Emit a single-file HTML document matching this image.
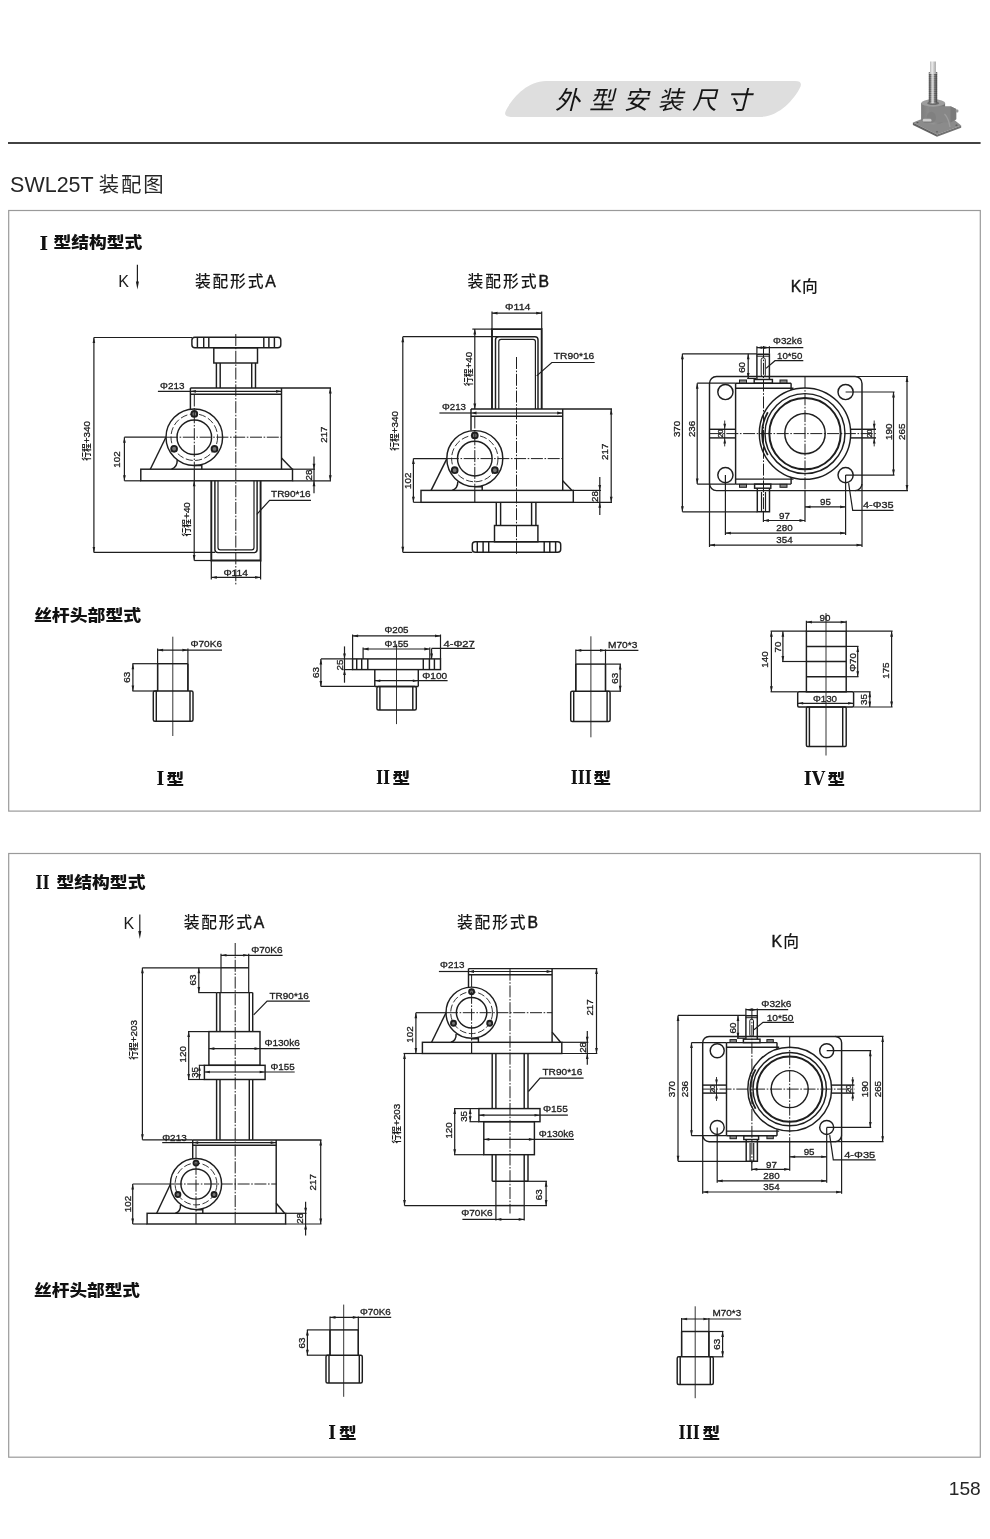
<!DOCTYPE html>
<html lang="zh-CN"><head><meta charset="utf-8"><title>SWL25T装配图 外型安装尺寸</title>
<style>
html,body{margin:0;padding:0;background:#fff}
body{width:990px;height:1539px;overflow:hidden;font-family:"Liberation Sans","Noto Sans CJK SC",sans-serif}
svg{display:block;filter:grayscale(1)}
text{font-family:"Liberation Sans","Noto Sans CJK SC",sans-serif;fill:#1c1c1c;stroke:none}
text.d{stroke:#1c1c1c;stroke-width:.3px}
text.h{font-family:"Noto Sans CJK SC","Liberation Sans",sans-serif;font-weight:900;fill:#111}
text.rn{font-family:"DejaVu Serif","Liberation Serif",serif;font-weight:700;fill:#111}
text.m{font-family:"Liberation Sans","Noto Sans CJK SC",sans-serif;font-weight:500;fill:#161616}
.ah{fill:#1e1e1e;stroke:none}
</style></head><body>
<svg width="990" height="1539" viewBox="0 0 990 1539">
<defs>
<linearGradient id="scr" x1="0" x2="1" y1="0" y2="0"><stop offset="0" stop-color="#5a5a5a"/><stop offset=".45" stop-color="#bdbdbd"/><stop offset="1" stop-color="#4c4c4c"/></linearGradient>
<linearGradient id="bdy" x1="0" x2="1" y1="0" y2="0"><stop offset="0" stop-color="#7d7d7d"/><stop offset=".5" stop-color="#949494"/><stop offset="1" stop-color="#707070"/></linearGradient>
<linearGradient id="scr2" x1="0" x2="1" y1="0" y2="0"><stop offset="0" stop-color="#9a9a9a"/><stop offset=".4" stop-color="#ececec"/><stop offset="1" stop-color="#8c8c8c"/></linearGradient>
<linearGradient id="shf" x1="0" x2="0" y1="0" y2="1"><stop offset="0" stop-color="#8a8a8a"/><stop offset=".4" stop-color="#e2e2e2"/><stop offset="1" stop-color="#6f6f6f"/></linearGradient>
</defs>
<rect width="990" height="1539" fill="#fff"/>
<!-- header -->
<path d="M546 81 H795 Q803.5 81 799.8 88 C794 99.5 779 116.9 760 116.9 H511 Q502.5 116.9 506.2 110 C512 98.5 527 81 546 81 Z" fill="#dedede"/>
<text x="556" y="108.6" font-size="25" letter-spacing="9.3" transform="translate(26 0) skewX(-14)" style="fill:#151515;font-family:'Noto Sans CJK SC','Liberation Sans',sans-serif;font-weight:400">外型安装尺寸</text>
<g id="logo">
<polygon points="912.9,122.6 920.5,119.6 952,118 961.2,125.6 937,134.4" fill="#8b8b8b"/>
<polygon points="912.9,122.6 937,134.4 937,136.8 912.9,124.9" fill="#636363"/>
<polygon points="937,134.4 961.2,125.6 961.2,127.8 937,136.8" fill="#727272"/>
<ellipse cx="917.5" cy="122.6" rx="1.1" ry=".6" fill="#555"/><ellipse cx="937" cy="131.8" rx="1.1" ry=".6" fill="#555"/><ellipse cx="956.5" cy="125.2" rx="1.1" ry=".6" fill="#555"/>
<path d="M921.1 103 V120.5 Q927 124.5 934 124.5 Q941 124.5 945.1 120.5 V103 Z" fill="url(#bdy)"/>
<path d="M928.5 109.5 Q928.5 106.3 932 106.3 H950.5 L956.2 109 V119.3 L950.5 122.6 H932 Q928.5 122.6 928.5 119.5 Z" fill="#878787"/>
<polygon points="950.5,106.3 956.2,109 956.2,119.3 950.5,122.6" fill="#7a7a7a"/>
<path d="M944.5 114 Q948.5 118 950 127" fill="none" stroke="#9d9d9d" stroke-width="1.3"/>
<ellipse cx="933.2" cy="103" rx="12" ry="3.7" fill="#9e9e9e"/>
<ellipse cx="933.2" cy="103.3" rx="6" ry="1.8" fill="#6d6d6d"/>
<rect x="928.8" y="72" width="8.4" height="31.6" fill="url(#scr)"/>
<g stroke="#3c3c3c" stroke-width=".75" opacity=".6"><path d="M928.8 74.5h8.4M928.8 76.4h8.4M928.8 78.3h8.4M928.8 80.2h8.4M928.8 82.1h8.4M928.8 84h8.4M928.8 85.9h8.4M928.8 87.8h8.4M928.8 89.7h8.4M928.8 91.6h8.4M928.8 93.5h8.4M928.8 95.4h8.4M928.8 97.3h8.4M928.8 99.2h8.4M928.8 101.1h8.4"/></g>
<rect x="931.4" y="72" width="2.4" height="31" fill="#e6e6e6" opacity=".75"/>
<path d="M930 61.5 H935.9 V72 L937.2 74 H928.8 L930 72 Z" fill="url(#scr2)"/>
<ellipse cx="931.3" cy="117.4" rx="4.6" ry="5.6" fill="#808080"/>
<rect x="922.7" y="118.2" width="8.8" height="4.6" rx="2" fill="url(#shf)"/>
<rect x="955.8" y="109.4" width="2.6" height="3" rx="1" fill="#9a9a9a"/>
</g>
<rect x="8" y="142.1" width="972.6" height="1.8" fill="#2e2e2e"/>
<text x="10.1" y="192.3" font-size="21.6" textLength="83.6" lengthAdjust="spacingAndGlyphs" style="fill:#262626">SWL25T</text>
<text x="98.8" y="191.8" font-size="20.4" textLength="64.8" lengthAdjust="spacing" style="fill:#262626;font-weight:400">装配图</text>
<rect x="8.7" y="210.5" width="971.6" height="600.6" fill="none" stroke="#9a9a9a" stroke-width="1.2"/>
<rect x="8.7" y="853.5" width="971.6" height="603.7" fill="none" stroke="#9a9a9a" stroke-width="1.2"/>
<text x="948.8" y="1495.3" font-size="18.6" textLength="32" lengthAdjust="spacingAndGlyphs" style="fill:#262626">158</text>

<!-- section headings -->
<text class="rn" x="39.6" y="249.6" font-size="18" textLength="8.6" lengthAdjust="spacingAndGlyphs">I</text>
<text class="h" x="53.5" y="248.3" font-size="15.6" textLength="88.9" lengthAdjust="spacingAndGlyphs">型结构型式</text>
<text class="h" x="33.9" y="621" font-size="15.6" textLength="107.3" lengthAdjust="spacingAndGlyphs">丝杆头部型式</text>
<text class="rn" x="35.4" y="888.6" font-size="18" textLength="14.2" lengthAdjust="spacingAndGlyphs">II</text>
<text class="h" x="56.4" y="887.9" font-size="15.6" textLength="89.1" lengthAdjust="spacingAndGlyphs">型结构型式</text>
<text class="h" x="34.1" y="1296.4" font-size="15.6" textLength="105.9" lengthAdjust="spacingAndGlyphs">丝杆头部型式</text>

<text x="118.2" y="286.9" font-size="16" style="fill:#1c1c1c">K</text>
<text class="m" x="194.9" y="287" font-size="15.8" textLength="80.9" lengthAdjust="spacing">装配形式<tspan font-weight="400" stroke="#161616" stroke-width=".4">A</tspan></text>
<text class="m" x="467.5" y="287" font-size="15.8" textLength="81.6" lengthAdjust="spacing">装配形式<tspan font-weight="400" stroke="#161616" stroke-width=".4">B</tspan></text>
<text class="m" x="790.7" y="291.5" font-size="15.8" textLength="27.1" lengthAdjust="spacing"><tspan font-weight="400" stroke="#161616" stroke-width=".4">K</tspan>向</text>
<text x="123.6" y="928.7" font-size="16" style="fill:#1c1c1c">K</text>
<text class="m" x="183.7" y="927.8" font-size="15.8" textLength="80.7" lengthAdjust="spacing">装配形式<tspan font-weight="400" stroke="#161616" stroke-width=".4">A</tspan></text>
<text class="m" x="457" y="927.8" font-size="15.8" textLength="81" lengthAdjust="spacing">装配形式<tspan font-weight="400" stroke="#161616" stroke-width=".4">B</tspan></text>
<text class="m" x="771.5" y="946.5" font-size="15.8" textLength="27.5" lengthAdjust="spacing"><tspan font-weight="400" stroke="#161616" stroke-width=".4">K</tspan>向</text>
<g stroke="#1e1e1e" stroke-width="1.2" fill="#1e1e1e">
<line x1="137.4" y1="264.7" x2="137.4" y2="284"/><polygon points="137.4,289.5 135.9,281.5 138.9,281.5" stroke="none"/>
<line x1="139.8" y1="914.5" x2="139.8" y2="933"/><polygon points="139.8,939 138.3,931 141.3,931" stroke="none"/>
</g>
<!-- head labels -->
<text class="rn" x="156.4" y="784.6" font-size="18" textLength="7.8" lengthAdjust="spacingAndGlyphs">I</text><text class="h" x="166.5" y="784.6" font-size="15.6" textLength="17.6" lengthAdjust="spacingAndGlyphs">型</text>
<text class="rn" x="375.9" y="784.2" font-size="18" textLength="14.2" lengthAdjust="spacingAndGlyphs">II</text><text class="h" x="392.6" y="783.8" font-size="15.6" textLength="17.6" lengthAdjust="spacingAndGlyphs">型</text>
<text class="rn" x="570.7" y="784.2" font-size="18" textLength="21.2" lengthAdjust="spacingAndGlyphs">III</text><text class="h" x="593.5" y="783.8" font-size="15.6" textLength="17.6" lengthAdjust="spacingAndGlyphs">型</text>
<text class="rn" x="803.7" y="785.2" font-size="18" textLength="21.3" lengthAdjust="spacingAndGlyphs">IV</text><text class="h" x="827.6" y="784.8" font-size="15.6" textLength="17.6" lengthAdjust="spacingAndGlyphs">型</text>
<text class="rn" x="328.2" y="1438.6" font-size="18" textLength="7.8" lengthAdjust="spacingAndGlyphs">I</text><text class="h" x="338.9" y="1438.6" font-size="15.6" textLength="17.6" lengthAdjust="spacingAndGlyphs">型</text>
<text class="rn" x="678.6" y="1438.6" font-size="18" textLength="21.2" lengthAdjust="spacingAndGlyphs">III</text><text class="h" x="702.4" y="1438.6" font-size="15.6" textLength="17.6" lengthAdjust="spacingAndGlyphs">型</text>
<g fill="none" stroke="#1e1e1e" stroke-linecap="butt" stroke-linejoin="miter">
<rect x="191.9" y="337.3" width="88.9" height="10.5" rx="3" stroke-width="1.45" />
<line x1="197.4" y1="337.3" x2="197.4" y2="347.8" stroke-width="1.45" />
<line x1="203.7" y1="337.3" x2="203.7" y2="347.8" stroke-width="1.45" />
<line x1="208.8" y1="337.3" x2="208.8" y2="347.8" stroke-width="1.45" />
<line x1="263.8" y1="337.3" x2="263.8" y2="347.8" stroke-width="1.45" />
<line x1="268.9" y1="337.3" x2="268.9" y2="347.8" stroke-width="1.45" />
<line x1="274.4" y1="337.3" x2="274.4" y2="347.8" stroke-width="1.45" />
<rect x="213.8" y="347.8" width="43.7" height="15.2" rx="0" stroke-width="1.45" />
<line x1="216.4" y1="363.0" x2="216.4" y2="388.0" stroke-width="1.45" />
<line x1="220.2" y1="363.0" x2="220.2" y2="388.0" stroke-width="1.45" />
<line x1="251.7" y1="363.0" x2="251.7" y2="388.0" stroke-width="1.45" />
<line x1="255.5" y1="363.0" x2="255.5" y2="388.0" stroke-width="1.45" />
<line x1="190.4" y1="388.0" x2="331.0" y2="388.0" stroke-width="1.45" />
<line x1="190.4" y1="394.2" x2="281.5" y2="394.2" stroke-width="1.45" />
<line x1="281.5" y1="388.0" x2="281.5" y2="469.2" stroke-width="1.45" />
<line x1="190.4" y1="388.0" x2="190.4" y2="409.2" stroke-width="1.45" />
<circle cx="194.3" cy="437.2" r="28.3" stroke-width="1.45" />
<circle cx="194.3" cy="437.2" r="17.3" stroke-width="1.45" />
<circle cx="194.3" cy="437.2" r="23.3" stroke-width="0.9" stroke-dasharray="7 2.5"/>
<circle cx="194.3" cy="413.9" r="2.9" stroke-width="1.9" fill="#777"/>
<circle cx="174.1" cy="448.8" r="2.9" stroke-width="1.9" fill="#777"/>
<circle cx="214.5" cy="448.9" r="2.9" stroke-width="1.9" fill="#777"/>
<line x1="194.3" y1="394.5" x2="194.3" y2="469.2" stroke-width="1.0" stroke-dasharray="12 1.6 1.6 1.6"/>
<line x1="194.3" y1="469.2" x2="194.3" y2="480.8" stroke-width="1.2" />
<line x1="124.4" y1="437.2" x2="166.0" y2="437.2" stroke-width="1.2" />
<line x1="166.0" y1="437.2" x2="281.5" y2="437.2" stroke-width="1.0" stroke-dasharray="12 1.6 1.6 1.6"/>
<line x1="165.9" y1="437.2" x2="150.3" y2="469.2" stroke-width="1.45" />
<path d="M177.2 460 Q177.5 467 171.5 469.2" stroke-width="1.45"/>
<polyline points="194.3,465.5 201.8,465.5 201.8,469.2" stroke-width="1.45" />
<rect x="140.8" y="469.2" width="151.7" height="11.6" rx="0" stroke-width="1.45" />
<line x1="281.5" y1="457.9" x2="292.3" y2="469.2" stroke-width="1.45" />
<line x1="235.8" y1="334.0" x2="235.8" y2="585.0" stroke-width="1.0" stroke-dasharray="12 1.6 1.6 1.6"/>
<polyline points="211.3,480.8 211.3,560.5 260.6,560.5 260.6,480.8" stroke-width="1.9" />
<path d="M214.9 480.8 V549.5 Q214.9 552.6 218 552.6 H254 Q257.1 552.6 257.1 549.5 V480.8" stroke-width="1.45"/>
<path d="M218 480.8 V547.5 Q218 549.8 220.3 549.8 H251.7 Q254 549.8 254 547.5 V480.8" stroke-width="1.2"/>
<line x1="190.4" y1="391.3" x2="281.5" y2="391.3" stroke-width="1.2" />
<polygon class="ah" points="190.4,391.3 195.9,389.9 195.9,392.7"/>
<polygon class="ah" points="281.5,391.3 276.0,392.7 276.0,389.9"/>
<line x1="157.9" y1="391.3" x2="190.4" y2="391.3" stroke-width="1.2" />
<text class="d" x="160.0" y="388.8" font-size="9.8" text-anchor="start" textLength="24.4" lengthAdjust="spacingAndGlyphs" >Φ213</text>
<line x1="93.9" y1="337.5" x2="93.9" y2="552.4" stroke-width="1.2" />
<polygon class="ah" points="93.9,337.5 95.2,343.0 92.6,343.0"/>
<polygon class="ah" points="93.9,552.4 92.6,546.9 95.2,546.9"/>
<line x1="93.9" y1="337.5" x2="192.0" y2="337.5" stroke-width="1.2" />
<line x1="93.9" y1="552.4" x2="215.0" y2="552.4" stroke-width="1.2" />
<text class="d" x="90.0" y="441.0" font-size="9.8" text-anchor="middle" transform="rotate(-90 90.0 441.0)"><tspan font-size="8.8" font-weight="700" stroke="none">行程</tspan>+340</text>
<line x1="124.4" y1="437.2" x2="124.4" y2="480.8" stroke-width="1.2" />
<polygon class="ah" points="124.4,437.2 125.8,442.7 123.1,442.7"/>
<polygon class="ah" points="124.4,480.8 123.1,475.3 125.8,475.3"/>
<line x1="124.4" y1="480.8" x2="140.8" y2="480.8" stroke-width="1.2" />
<text class="d" x="119.9" y="459.5" font-size="9.8" text-anchor="middle" transform="rotate(-90 119.9 459.5)">102</text>
<line x1="194.2" y1="480.8" x2="194.2" y2="560.5" stroke-width="1.2" />
<polygon class="ah" points="194.2,480.8 195.5,486.3 192.8,486.3"/>
<polygon class="ah" points="194.2,560.5 192.8,555.0 195.5,555.0"/>
<line x1="194.2" y1="560.5" x2="211.3" y2="560.5" stroke-width="1.2" />
<text class="d" x="190.3" y="519.3" font-size="9.8" text-anchor="middle" transform="rotate(-90 190.3 519.3)"><tspan font-size="8.8" font-weight="700" stroke="none">行程</tspan>+40</text>
<line x1="211.3" y1="577.4" x2="260.6" y2="577.4" stroke-width="1.2" />
<polygon class="ah" points="211.3,577.4 216.8,576.0 216.8,578.8"/>
<polygon class="ah" points="260.6,577.4 255.1,578.8 255.1,576.0"/>
<line x1="211.3" y1="560.5" x2="211.3" y2="579.5" stroke-width="1.2" />
<line x1="260.6" y1="560.5" x2="260.6" y2="579.5" stroke-width="1.2" />
<text class="d" x="223.4" y="575.8" font-size="9.8" text-anchor="start" textLength="24.6" lengthAdjust="spacingAndGlyphs" >Φ114</text>
<text class="d" x="271.0" y="496.9" font-size="9.8" text-anchor="start" textLength="39.6" lengthAdjust="spacingAndGlyphs" >TR90*16</text>
<polyline points="311.0,500.4 269.6,500.4 256.8,514.3" stroke-width="1.2" />
<line x1="330.3" y1="388.0" x2="330.3" y2="480.8" stroke-width="1.2" />
<polygon class="ah" points="330.3,388.0 331.7,393.5 328.9,393.5"/>
<polygon class="ah" points="330.3,480.8 328.9,475.3 331.7,475.3"/>
<line x1="292.5" y1="480.8" x2="331.0" y2="480.8" stroke-width="1.2" />
<text class="d" x="326.7" y="434.6" font-size="9.8" text-anchor="middle" transform="rotate(-90 326.7 434.6)">217</text>
<line x1="314.0" y1="456.4" x2="314.0" y2="493.2" stroke-width="1.2" />
<polygon class="ah" points="314.0,469.2 312.6,463.7 315.4,463.7"/>
<polygon class="ah" points="314.0,480.8 315.4,486.3 312.6,486.3"/>
<line x1="292.5" y1="469.2" x2="315.0" y2="469.2" stroke-width="1.2" />
<text class="d" x="311.5" y="475.0" font-size="9.8" text-anchor="middle" transform="rotate(-90 311.5 475.0)">28</text>
<polyline points="492.0,409.0 492.0,329.1 541.7,329.1 541.7,409.0" stroke-width="1.9" />
<path d="M495.5 409 V339.8 Q495.5 336.7 498.6 336.7 H534.9 Q538 336.7 538 339.8 V409" stroke-width="1.45"/>
<path d="M498.8 409 V341.6 Q498.8 339.3 501.1 339.3 H533.1 Q535.4 339.3 535.4 341.6 V409" stroke-width="1.2"/>
<line x1="471.0" y1="409.0" x2="612.0" y2="409.0" stroke-width="1.45" />
<line x1="471.0" y1="416.3" x2="562.7" y2="416.3" stroke-width="1.45" />
<line x1="562.7" y1="409.0" x2="562.7" y2="490.4" stroke-width="1.45" />
<line x1="471.0" y1="409.0" x2="471.0" y2="430.6" stroke-width="1.45" />
<circle cx="474.8" cy="458.6" r="28.0" stroke-width="1.45" />
<circle cx="474.8" cy="458.6" r="17.3" stroke-width="1.45" />
<circle cx="474.8" cy="458.6" r="23.2" stroke-width="0.9" stroke-dasharray="7 2.5"/>
<circle cx="474.8" cy="435.4" r="2.9" stroke-width="1.9" fill="#777"/>
<circle cx="454.7" cy="470.2" r="2.9" stroke-width="1.9" fill="#777"/>
<circle cx="494.9" cy="470.2" r="2.9" stroke-width="1.9" fill="#777"/>
<line x1="474.8" y1="416.5" x2="474.8" y2="490.4" stroke-width="1.0" stroke-dasharray="12 1.6 1.6 1.6"/>
<line x1="474.8" y1="490.4" x2="474.8" y2="502.3" stroke-width="1.2" />
<line x1="413.4" y1="458.6" x2="446.9" y2="458.6" stroke-width="1.2" />
<line x1="446.9" y1="458.6" x2="562.7" y2="458.6" stroke-width="1.0" stroke-dasharray="12 1.6 1.6 1.6"/>
<line x1="446.9" y1="458.6" x2="431.1" y2="490.4" stroke-width="1.45" />
<path d="M457.8 481.5 Q458 488.2 452.2 490.4" stroke-width="1.45"/>
<polyline points="474.8,486.7 482.2,486.7 482.2,490.4" stroke-width="1.45" />
<rect x="421.0" y="490.4" width="152.3" height="11.9" rx="0" stroke-width="1.45" />
<line x1="562.7" y1="480.8" x2="572.0" y2="490.4" stroke-width="1.45" />
<line x1="496.3" y1="502.3" x2="496.3" y2="525.5" stroke-width="1.45" />
<line x1="500.6" y1="502.3" x2="500.6" y2="525.5" stroke-width="1.45" />
<line x1="531.6" y1="502.3" x2="531.6" y2="525.5" stroke-width="1.45" />
<line x1="535.9" y1="502.3" x2="535.9" y2="525.5" stroke-width="1.45" />
<rect x="494.5" y="525.5" width="43.4" height="16.3" rx="0" stroke-width="1.45" />
<rect x="472.3" y="541.8" width="88.4" height="10.5" rx="3" stroke-width="1.45" />
<line x1="477.3" y1="541.8" x2="477.3" y2="552.3" stroke-width="1.45" />
<line x1="483.1" y1="541.8" x2="483.1" y2="552.3" stroke-width="1.45" />
<line x1="488.7" y1="541.8" x2="488.7" y2="552.3" stroke-width="1.45" />
<line x1="544.2" y1="541.8" x2="544.2" y2="552.3" stroke-width="1.45" />
<line x1="549.8" y1="541.8" x2="549.8" y2="552.3" stroke-width="1.45" />
<line x1="555.6" y1="541.8" x2="555.6" y2="552.3" stroke-width="1.45" />
<line x1="516.5" y1="357.0" x2="516.5" y2="554.0" stroke-width="1.0" stroke-dasharray="12 1.6 1.6 1.6"/>
<line x1="492.0" y1="313.2" x2="541.7" y2="313.2" stroke-width="1.2" />
<polygon class="ah" points="492.0,313.2 497.5,311.8 497.5,314.6"/>
<polygon class="ah" points="541.7,313.2 536.2,314.6 536.2,311.8"/>
<line x1="492.0" y1="311.5" x2="492.0" y2="329.0" stroke-width="1.2" />
<line x1="541.7" y1="311.5" x2="541.7" y2="329.0" stroke-width="1.2" />
<text class="d" x="505.1" y="310.3" font-size="9.8" text-anchor="start" textLength="25.3" lengthAdjust="spacingAndGlyphs" >Φ114</text>
<line x1="474.8" y1="329.1" x2="474.8" y2="409.0" stroke-width="1.2" />
<polygon class="ah" points="474.8,329.1 476.2,334.6 473.4,334.6"/>
<polygon class="ah" points="474.8,409.0 473.4,403.5 476.2,403.5"/>
<line x1="472.3" y1="329.1" x2="492.0" y2="329.1" stroke-width="1.2" />
<text class="d" x="472.4" y="369.0" font-size="9.8" text-anchor="middle" transform="rotate(-90 472.4 369.0)"><tspan font-size="8.8" font-weight="700" stroke="none">行程</tspan>+40</text>
<line x1="402.8" y1="336.7" x2="402.8" y2="552.3" stroke-width="1.2" />
<polygon class="ah" points="402.8,336.7 404.2,342.2 401.4,342.2"/>
<polygon class="ah" points="402.8,552.3 401.4,546.8 404.2,546.8"/>
<line x1="402.8" y1="336.7" x2="498.6" y2="336.7" stroke-width="1.2" />
<line x1="402.8" y1="552.3" x2="472.3" y2="552.3" stroke-width="1.2" />
<text class="d" x="397.5" y="431.0" font-size="9.8" text-anchor="middle" transform="rotate(-90 397.5 431.0)"><tspan font-size="8.8" font-weight="700" stroke="none">行程</tspan>+340</text>
<text class="d" x="553.8" y="358.9" font-size="9.8" text-anchor="start" textLength="40.5" lengthAdjust="spacingAndGlyphs" >TR90*16</text>
<polyline points="594.7,362.5 551.8,362.5 536.7,375.9" stroke-width="1.2" />
<line x1="471.0" y1="413.0" x2="562.7" y2="413.0" stroke-width="1.2" />
<polygon class="ah" points="471.0,413.0 476.5,411.6 476.5,414.4"/>
<polygon class="ah" points="562.7,413.0 557.2,414.4 557.2,411.6"/>
<line x1="439.4" y1="413.0" x2="471.0" y2="413.0" stroke-width="1.2" />
<text class="d" x="442.0" y="409.6" font-size="9.8" text-anchor="start" textLength="24.0" lengthAdjust="spacingAndGlyphs" >Φ213</text>
<line x1="413.4" y1="458.6" x2="413.4" y2="502.3" stroke-width="1.2" />
<polygon class="ah" points="413.4,458.6 414.8,464.1 412.0,464.1"/>
<polygon class="ah" points="413.4,502.3 412.0,496.8 414.8,496.8"/>
<line x1="413.4" y1="502.3" x2="421.0" y2="502.3" stroke-width="1.2" />
<text class="d" x="411.1" y="480.8" font-size="9.8" text-anchor="middle" transform="rotate(-90 411.1 480.8)">102</text>
<line x1="611.2" y1="409.0" x2="611.2" y2="502.3" stroke-width="1.2" />
<polygon class="ah" points="611.2,409.0 612.6,414.5 609.9,414.5"/>
<polygon class="ah" points="611.2,502.3 609.9,496.8 612.6,496.8"/>
<line x1="573.3" y1="502.3" x2="612.0" y2="502.3" stroke-width="1.2" />
<text class="d" x="607.8" y="451.8" font-size="9.8" text-anchor="middle" transform="rotate(-90 607.8 451.8)">217</text>
<line x1="599.8" y1="477.0" x2="599.8" y2="514.9" stroke-width="1.2" />
<polygon class="ah" points="599.8,490.4 598.4,484.9 601.1,484.9"/>
<polygon class="ah" points="599.8,502.3 601.1,507.8 598.4,507.8"/>
<line x1="573.3" y1="490.4" x2="601.0" y2="490.4" stroke-width="1.2" />
<text class="d" x="597.7" y="496.5" font-size="9.8" text-anchor="middle" transform="rotate(-90 597.7 496.5)">28</text>
<rect x="709.5" y="376.5" width="152.5" height="114.1" rx="7.0" stroke-width="1.45" />
<circle cx="725.4" cy="392.0" r="7.6" stroke-width="1.45" />
<circle cx="725.4" cy="475.1" r="7.6" stroke-width="1.45" />
<circle cx="845.6" cy="392.0" r="7.6" stroke-width="1.45" />
<circle cx="845.6" cy="475.1" r="7.6" stroke-width="1.45" />
<line x1="735.6" y1="383.2" x2="791.1" y2="383.2" stroke-width="1.45" />
<line x1="735.6" y1="388.2" x2="793.5" y2="388.2" stroke-width="1.45" />
<line x1="735.6" y1="479.1" x2="793.5" y2="479.1" stroke-width="1.45" />
<line x1="735.6" y1="484.1" x2="791.1" y2="484.1" stroke-width="1.45" />
<line x1="735.6" y1="383.2" x2="735.6" y2="484.1" stroke-width="1.45" />
<line x1="791.1" y1="383.2" x2="791.1" y2="390.2" stroke-width="1.45" />
<line x1="791.1" y1="477.0" x2="791.1" y2="484.1" stroke-width="1.45" />
<circle cx="805.0" cy="433.6" r="45.7" stroke-width="1.45" />
<circle cx="805.0" cy="433.6" r="40.0" stroke-width="1.45" />
<circle cx="805.0" cy="433.6" r="35.7" stroke-width="2.0" />
<circle cx="805.0" cy="433.6" r="20.2" stroke-width="1.45" />
<path d="M767.8 412.2 A42.9 42.9 0 0 0 767.8 455.1" stroke-width="1.8"/>
<line x1="763.5" y1="346.0" x2="763.5" y2="514.0" stroke-width="1.0" stroke-dasharray="12 1.6 1.6 1.6"/>
<line x1="709.5" y1="433.6" x2="876.0" y2="433.6" stroke-width="1.0" stroke-dasharray="12 1.6 1.6 1.6"/>
<line x1="805.0" y1="376.5" x2="805.0" y2="491.0" stroke-width="1.0" stroke-dasharray="12 1.6 1.6 1.6"/>
<line x1="805.0" y1="491.0" x2="805.0" y2="522.0" stroke-width="1.2" />
<polyline points="756.9,379.5 756.9,354.2 769.4,354.2 769.4,379.5" stroke-width="1.45" />
<line x1="756.9" y1="356.2" x2="769.4" y2="356.2" stroke-width="1.0" />
<rect x="754.2" y="379.5" width="18.2" height="3.7" rx="0" stroke-width="1.45" />
<rect x="761.2" y="357.8" width="4.1" height="19.0" rx="1.9" stroke-width="1.0" />
<rect x="739.5" y="380.0" width="7.0" height="3.0" rx="0" stroke-width="1.0" fill="#8a8a8a"/>
<rect x="739.5" y="484.3" width="7.0" height="3.0" rx="0" stroke-width="1.0" fill="#8a8a8a"/>
<rect x="780.0" y="380.0" width="7.0" height="3.0" rx="0" stroke-width="1.0" fill="#8a8a8a"/>
<rect x="780.0" y="484.3" width="7.0" height="3.0" rx="0" stroke-width="1.0" fill="#8a8a8a"/>
<rect x="754.6" y="484.1" width="16.2" height="4.1" rx="0" stroke-width="1.45" />
<polyline points="757.3,488.2 757.3,511.8 769.5,511.8 769.5,488.2" stroke-width="1.45" />
<line x1="761.5" y1="492.0" x2="761.5" y2="511.8" stroke-width="1.2" />
<line x1="765.5" y1="492.0" x2="765.5" y2="511.8" stroke-width="1.2" />
<line x1="709.5" y1="429.3" x2="735.6" y2="429.3" stroke-width="1.45" />
<line x1="850.5" y1="429.3" x2="876.0" y2="429.3" stroke-width="1.45" />
<line x1="709.5" y1="437.9" x2="735.6" y2="437.9" stroke-width="1.45" />
<line x1="850.5" y1="437.9" x2="876.0" y2="437.9" stroke-width="1.45" />
<line x1="756.9" y1="346.3" x2="756.9" y2="353.8" stroke-width="1.2" />
<line x1="769.4" y1="346.3" x2="769.4" y2="353.8" stroke-width="1.2" />
<line x1="756.9" y1="347.6" x2="803.3" y2="347.6" stroke-width="1.2" />
<polygon class="ah" points="756.9,347.6 762.4,346.2 762.4,349.0"/>
<polygon class="ah" points="769.4,347.6 763.9,349.0 763.9,346.2"/>
<text class="d" x="773.0" y="343.6" font-size="9.8" text-anchor="start" textLength="29.3" lengthAdjust="spacingAndGlyphs" >Φ32k6</text>
<text class="d" x="777.0" y="358.9" font-size="9.8" text-anchor="start" textLength="25.3" lengthAdjust="spacingAndGlyphs" >10*50</text>
<polyline points="803.3,360.7 775.0,360.7 766.0,368.4" stroke-width="1.2" />
<line x1="748.2" y1="353.8" x2="748.2" y2="378.5" stroke-width="1.2" />
<polygon class="ah" points="748.2,353.8 749.6,359.3 746.9,359.3"/>
<polygon class="ah" points="748.2,378.5 746.9,373.0 749.6,373.0"/>
<line x1="747.2" y1="378.5" x2="756.0" y2="378.5" stroke-width="1.2" />
<text class="d" x="745.3" y="367.4" font-size="9.8" text-anchor="middle" transform="rotate(-90 745.3 367.4)">60</text>
<line x1="682.4" y1="353.8" x2="682.4" y2="511.8" stroke-width="1.2" />
<polygon class="ah" points="682.4,353.8 683.8,359.3 681.0,359.3"/>
<polygon class="ah" points="682.4,511.8 681.0,506.3 683.8,506.3"/>
<line x1="682.4" y1="353.8" x2="756.9" y2="353.8" stroke-width="1.2" />
<line x1="682.4" y1="511.8" x2="757.3" y2="511.8" stroke-width="1.2" />
<text class="d" x="679.9" y="428.9" font-size="9.8" text-anchor="middle" transform="rotate(-90 679.9 428.9)">370</text>
<line x1="697.2" y1="383.2" x2="697.2" y2="484.1" stroke-width="1.2" />
<polygon class="ah" points="697.2,383.2 698.6,388.7 695.9,388.7"/>
<polygon class="ah" points="697.2,484.1 695.9,478.6 698.6,478.6"/>
<line x1="697.2" y1="383.2" x2="735.6" y2="383.2" stroke-width="1.2" />
<line x1="697.2" y1="484.1" x2="735.6" y2="484.1" stroke-width="1.2" />
<text class="d" x="695.2" y="428.9" font-size="9.8" text-anchor="middle" transform="rotate(-90 695.2 428.9)">236</text>
<line x1="893.5" y1="392.0" x2="893.5" y2="475.1" stroke-width="1.2" />
<polygon class="ah" points="893.5,392.0 894.9,397.5 892.1,397.5"/>
<polygon class="ah" points="893.5,475.1 892.1,469.6 894.9,469.6"/>
<line x1="845.6" y1="392.0" x2="894.5" y2="392.0" stroke-width="1.2" />
<line x1="845.6" y1="475.1" x2="894.5" y2="475.1" stroke-width="1.2" />
<text class="d" x="892.0" y="431.7" font-size="9.8" text-anchor="middle" transform="rotate(-90 892.0 431.7)">190</text>
<line x1="907.0" y1="376.5" x2="907.0" y2="490.6" stroke-width="1.2" />
<polygon class="ah" points="907.0,376.5 908.4,382.0 905.6,382.0"/>
<polygon class="ah" points="907.0,490.6 905.6,485.1 908.4,485.1"/>
<line x1="855.0" y1="376.5" x2="908.0" y2="376.5" stroke-width="1.2" />
<line x1="855.0" y1="490.6" x2="908.0" y2="490.6" stroke-width="1.2" />
<text class="d" x="905.3" y="431.7" font-size="9.8" text-anchor="middle" transform="rotate(-90 905.3 431.7)">265</text>
<line x1="874.2" y1="420.5" x2="874.2" y2="446.4" stroke-width="0.9" />
<polygon class="ah" points="874.2,429.3 872.9,423.8 875.6,423.8"/>
<polygon class="ah" points="874.2,437.9 875.6,443.4 872.9,443.4"/>
<line x1="724.7" y1="420.5" x2="724.7" y2="446.4" stroke-width="0.9" />
<polygon class="ah" points="724.7,429.3 723.4,423.8 726.1,423.8"/>
<polygon class="ah" points="724.7,437.9 726.1,443.4 723.4,443.4"/>
<text class="d" x="871.8" y="433.6" font-size="7.2" text-anchor="middle" transform="rotate(-90 871.8 433.6)">20</text>
<text class="d" x="722.6" y="433.6" font-size="7.2" text-anchor="middle" transform="rotate(-90 722.6 433.6)">20</text>
<line x1="763.4" y1="520.5" x2="805.0" y2="520.5" stroke-width="1.2" />
<polygon class="ah" points="763.4,520.5 768.9,519.1 768.9,521.9"/>
<polygon class="ah" points="805.0,520.5 799.5,521.9 799.5,519.1"/>
<line x1="763.4" y1="511.8" x2="763.4" y2="522.0" stroke-width="1.2" />
<text class="d" x="784.5" y="518.9" font-size="9.8" text-anchor="middle" >97</text>
<line x1="805.0" y1="506.9" x2="845.6" y2="506.9" stroke-width="1.2" />
<polygon class="ah" points="805.0,506.9 810.5,505.5 810.5,508.2"/>
<polygon class="ah" points="845.6,506.9 840.1,508.2 840.1,505.5"/>
<text class="d" x="825.4" y="505.0" font-size="9.8" text-anchor="middle" >95</text>
<line x1="725.4" y1="533.1" x2="845.6" y2="533.1" stroke-width="1.2" />
<polygon class="ah" points="725.4,533.1 730.9,531.8 730.9,534.5"/>
<polygon class="ah" points="845.6,533.1 840.1,534.5 840.1,531.8"/>
<line x1="725.4" y1="475.1" x2="725.4" y2="535.0" stroke-width="1.2" />
<line x1="845.6" y1="475.1" x2="845.6" y2="535.0" stroke-width="1.2" />
<text class="d" x="784.5" y="531.1" font-size="9.8" text-anchor="middle" >280</text>
<line x1="709.5" y1="545.1" x2="862.0" y2="545.1" stroke-width="1.2" />
<polygon class="ah" points="709.5,545.1 715.0,543.8 715.0,546.5"/>
<polygon class="ah" points="862.0,545.1 856.5,546.5 856.5,543.8"/>
<line x1="709.5" y1="484.0" x2="709.5" y2="547.0" stroke-width="1.2" />
<line x1="862.0" y1="484.0" x2="862.0" y2="547.0" stroke-width="1.2" />
<text class="d" x="784.5" y="543.4" font-size="9.8" text-anchor="middle" >354</text>
<text class="d" x="863.0" y="508.0" font-size="9.8" text-anchor="start" textLength="30.6" lengthAdjust="spacingAndGlyphs" >4-Φ35</text>
<polyline points="893.6,510.4 852.7,510.4 848.6,483.2" stroke-width="1.2" />
<line x1="172.8" y1="636.7" x2="172.8" y2="736.0" stroke-width="0.9" />
<polyline points="157.6,691.0 157.6,648.6" stroke-width="1.2" />
<polyline points="187.9,691.0 187.9,648.6" stroke-width="1.2" />
<line x1="157.6" y1="663.7" x2="187.9" y2="663.7" stroke-width="1.45" />
<line x1="157.6" y1="663.7" x2="157.6" y2="691.0" stroke-width="1.45" />
<line x1="187.9" y1="663.7" x2="187.9" y2="691.0" stroke-width="1.45" />
<line x1="157.6" y1="650.1" x2="222.0" y2="650.1" stroke-width="1.2" />
<polygon class="ah" points="157.6,650.1 163.1,648.8 163.1,651.5"/>
<polygon class="ah" points="187.9,650.1 182.4,651.5 182.4,648.8"/>
<text class="d" x="190.5" y="647.3" font-size="9.8" text-anchor="start" textLength="31.5" lengthAdjust="spacingAndGlyphs" >Φ70K6</text>
<rect x="153.3" y="691.0" width="39.7" height="30.3" rx="1.5" stroke-width="1.45" />
<line x1="156.3" y1="691.0" x2="156.3" y2="721.3" stroke-width="1.45" />
<line x1="190.0" y1="691.0" x2="190.0" y2="721.3" stroke-width="1.45" />
<line x1="132.9" y1="663.7" x2="132.9" y2="691.0" stroke-width="1.2" />
<polygon class="ah" points="132.9,663.7 134.2,669.2 131.6,669.2"/>
<polygon class="ah" points="132.9,691.0 131.6,685.5 134.2,685.5"/>
<line x1="132.4" y1="663.7" x2="157.6" y2="663.7" stroke-width="1.2" />
<line x1="132.4" y1="691.0" x2="157.6" y2="691.0" stroke-width="1.2" />
<text class="d" x="130.1" y="677.3" font-size="9.8" text-anchor="middle" transform="rotate(-90 130.1 677.3)">63</text>
<line x1="590.9" y1="636.3" x2="590.9" y2="737.3" stroke-width="0.9" />
<polyline points="575.8,691.2 575.8,649.4" stroke-width="1.2" />
<polyline points="605.5,691.2 605.5,649.4" stroke-width="1.2" />
<line x1="575.8" y1="664.1" x2="605.5" y2="664.1" stroke-width="1.45" />
<line x1="575.8" y1="664.1" x2="575.8" y2="691.2" stroke-width="1.45" />
<line x1="605.5" y1="664.1" x2="605.5" y2="691.2" stroke-width="1.45" />
<line x1="575.8" y1="650.4" x2="638.4" y2="650.4" stroke-width="1.2" />
<polygon class="ah" points="575.8,650.4 581.3,649.0 581.3,651.8"/>
<polygon class="ah" points="605.5,650.4 600.0,651.8 600.0,649.0"/>
<text class="d" x="608.0" y="648.2" font-size="9.8" text-anchor="start" textLength="29.4" lengthAdjust="spacingAndGlyphs" >M70*3</text>
<rect x="570.7" y="691.2" width="39.4" height="30.3" rx="1.5" stroke-width="1.45" />
<line x1="573.7" y1="691.2" x2="573.7" y2="721.5" stroke-width="1.45" />
<line x1="607.1" y1="691.2" x2="607.1" y2="721.5" stroke-width="1.45" />
<line x1="620.2" y1="664.1" x2="620.2" y2="691.2" stroke-width="1.2" />
<polygon class="ah" points="620.2,664.1 621.6,669.6 618.9,669.6"/>
<polygon class="ah" points="620.2,691.2 618.9,685.7 621.6,685.7"/>
<line x1="605.5" y1="664.1" x2="621.0" y2="664.1" stroke-width="1.2" />
<line x1="605.5" y1="691.2" x2="621.0" y2="691.2" stroke-width="1.2" />
<text class="d" x="617.6" y="678.3" font-size="9.8" text-anchor="middle" transform="rotate(-90 617.6 678.3)">63</text>
<line x1="396.5" y1="644.3" x2="396.5" y2="724.1" stroke-width="0.9" />
<text class="d" x="396.5" y="633.0" font-size="9.8" text-anchor="middle" >Φ205</text>
<line x1="352.6" y1="635.9" x2="440.5" y2="635.9" stroke-width="1.2" />
<polygon class="ah" points="352.6,635.9 358.1,634.5 358.1,637.2"/>
<polygon class="ah" points="440.5,635.9 435.0,637.2 435.0,634.5"/>
<line x1="352.6" y1="634.5" x2="352.6" y2="658.9" stroke-width="1.2" />
<line x1="440.5" y1="634.5" x2="440.5" y2="658.9" stroke-width="1.2" />
<text class="d" x="396.5" y="646.8" font-size="9.8" text-anchor="middle" >Φ155</text>
<line x1="363.1" y1="649.0" x2="429.8" y2="649.0" stroke-width="1.2" />
<polygon class="ah" points="363.1,649.0 368.6,647.6 368.6,650.4"/>
<polygon class="ah" points="429.8,649.0 424.3,650.4 424.3,647.6"/>
<line x1="363.1" y1="647.5" x2="363.1" y2="658.9" stroke-width="1.2" />
<line x1="429.8" y1="647.5" x2="429.8" y2="658.9" stroke-width="1.2" />
<text class="d" x="443.5" y="646.8" font-size="9.8" text-anchor="start" textLength="31.3" lengthAdjust="spacingAndGlyphs" >4-Φ27</text>
<line x1="431.6" y1="648.4" x2="474.8" y2="648.4" stroke-width="1.2" />
<line x1="431.6" y1="648.4" x2="431.6" y2="658.9" stroke-width="1.2" />
<polygon class="ah" points="431.6,658.9 430.2,653.4 433.0,653.4"/>
<rect x="352.6" y="658.9" width="87.9" height="10.7" rx="0" stroke-width="1.45" />
<line x1="356.7" y1="658.9" x2="356.7" y2="669.6" stroke-width="1.45" />
<line x1="361.7" y1="658.9" x2="361.7" y2="669.6" stroke-width="1.45" />
<line x1="367.8" y1="658.9" x2="367.8" y2="669.6" stroke-width="1.45" />
<line x1="423.3" y1="658.9" x2="423.3" y2="669.6" stroke-width="1.45" />
<line x1="429.4" y1="658.9" x2="429.4" y2="669.6" stroke-width="1.45" />
<line x1="434.4" y1="658.9" x2="434.4" y2="669.6" stroke-width="1.45" />
<line x1="344.5" y1="646.4" x2="344.5" y2="682.7" stroke-width="1.2" />
<polygon class="ah" points="344.5,658.9 343.1,653.4 345.9,653.4"/>
<polygon class="ah" points="344.5,669.6 345.9,675.1 343.1,675.1"/>
<line x1="343.5" y1="669.6" x2="352.6" y2="669.6" stroke-width="1.2" />
<text class="d" x="343.0" y="665.0" font-size="9.8" text-anchor="middle" transform="rotate(-90 343.0 665.0)">25</text>
<line x1="320.9" y1="658.9" x2="320.9" y2="686.4" stroke-width="1.2" />
<polygon class="ah" points="320.9,658.9 322.2,664.4 319.5,664.4"/>
<polygon class="ah" points="320.9,686.4 319.5,680.9 322.2,680.9"/>
<line x1="320.9" y1="658.9" x2="352.6" y2="658.9" stroke-width="1.2" />
<line x1="320.9" y1="686.4" x2="374.8" y2="686.4" stroke-width="1.2" />
<text class="d" x="318.8" y="672.6" font-size="9.8" text-anchor="middle" transform="rotate(-90 318.8 672.6)">63</text>
<line x1="374.8" y1="669.6" x2="374.8" y2="686.4" stroke-width="1.45" />
<line x1="418.3" y1="669.6" x2="418.3" y2="686.4" stroke-width="1.45" />
<line x1="374.8" y1="680.7" x2="447.6" y2="680.7" stroke-width="1.2" />
<polygon class="ah" points="374.8,680.7 380.3,679.4 380.3,682.1"/>
<polygon class="ah" points="418.3,680.7 412.8,682.1 412.8,679.4"/>
<text class="d" x="422.3" y="679.2" font-size="9.8" text-anchor="start" textLength="24.9" lengthAdjust="spacingAndGlyphs" >Φ100</text>
<rect x="376.9" y="686.4" width="39.4" height="23.6" rx="1.5" stroke-width="1.45" />
<line x1="379.9" y1="686.4" x2="379.9" y2="710.0" stroke-width="1.45" />
<line x1="412.8" y1="686.4" x2="412.8" y2="710.0" stroke-width="1.45" />
<line x1="374.8" y1="686.4" x2="418.3" y2="686.4" stroke-width="1.45" />
<line x1="826.0" y1="613.0" x2="826.0" y2="755.5" stroke-width="0.9" />
<text class="d" x="824.9" y="620.6" font-size="9.8" text-anchor="middle" >90</text>
<line x1="806.4" y1="622.1" x2="846.2" y2="622.1" stroke-width="1.2" />
<polygon class="ah" points="806.4,622.1 811.9,620.8 811.9,623.5"/>
<polygon class="ah" points="846.2,622.1 840.7,623.5 840.7,620.8"/>
<line x1="806.4" y1="620.8" x2="806.4" y2="631.2" stroke-width="1.2" />
<line x1="846.2" y1="620.8" x2="846.2" y2="631.2" stroke-width="1.2" />
<rect x="806.4" y="631.2" width="39.8" height="60.6" rx="0" stroke-width="1.45" />
<line x1="806.4" y1="646.4" x2="846.2" y2="646.4" stroke-width="1.45" />
<line x1="806.4" y1="661.5" x2="846.2" y2="661.5" stroke-width="1.45" />
<line x1="806.4" y1="676.7" x2="846.2" y2="676.7" stroke-width="1.45" />
<line x1="771.4" y1="631.2" x2="771.4" y2="691.8" stroke-width="1.2" />
<polygon class="ah" points="771.4,631.2 772.8,636.7 770.0,636.7"/>
<polygon class="ah" points="771.4,691.8 770.0,686.3 772.8,686.3"/>
<line x1="770.6" y1="631.2" x2="806.4" y2="631.2" stroke-width="1.2" />
<line x1="770.6" y1="691.8" x2="797.7" y2="691.8" stroke-width="1.2" />
<text class="d" x="768.2" y="659.5" font-size="9.8" text-anchor="middle" transform="rotate(-90 768.2 659.5)">140</text>
<line x1="782.9" y1="631.2" x2="782.9" y2="661.5" stroke-width="1.2" />
<polygon class="ah" points="782.9,631.2 784.2,636.7 781.5,636.7"/>
<polygon class="ah" points="782.9,661.5 781.5,656.0 784.2,656.0"/>
<line x1="782.1" y1="661.5" x2="806.4" y2="661.5" stroke-width="1.2" />
<text class="d" x="781.0" y="647.0" font-size="9.8" text-anchor="middle" transform="rotate(-90 781.0 647.0)">70</text>
<line x1="857.7" y1="646.4" x2="857.7" y2="676.7" stroke-width="1.2" />
<polygon class="ah" points="857.7,646.4 859.1,651.9 856.4,651.9"/>
<polygon class="ah" points="857.7,676.7 856.4,671.2 859.1,671.2"/>
<line x1="846.2" y1="646.4" x2="858.5" y2="646.4" stroke-width="1.2" />
<line x1="846.2" y1="676.7" x2="858.5" y2="676.7" stroke-width="1.2" />
<text class="d" x="856.3" y="662.5" font-size="9.8" text-anchor="middle" transform="rotate(-90 856.3 662.5)">Φ70</text>
<line x1="891.6" y1="631.2" x2="891.6" y2="707.0" stroke-width="1.2" />
<polygon class="ah" points="891.6,631.2 893.0,636.7 890.2,636.7"/>
<polygon class="ah" points="891.6,707.0 890.2,701.5 893.0,701.5"/>
<line x1="846.2" y1="631.2" x2="892.6" y2="631.2" stroke-width="1.2" />
<line x1="853.6" y1="707.0" x2="892.6" y2="707.0" stroke-width="1.2" />
<text class="d" x="889.1" y="670.6" font-size="9.8" text-anchor="middle" transform="rotate(-90 889.1 670.6)">175</text>
<rect x="797.7" y="691.8" width="55.9" height="15.2" rx="1.2" stroke-width="1.45" />
<line x1="797.7" y1="703.3" x2="853.6" y2="703.3" stroke-width="1.2" />
<polygon class="ah" points="797.7,703.3 803.2,701.9 803.2,704.6"/>
<polygon class="ah" points="853.6,703.3 848.1,704.6 848.1,701.9"/>
<text class="d" x="825.0" y="701.7" font-size="9.8" text-anchor="middle" >Φ130</text>
<line x1="869.8" y1="691.8" x2="869.8" y2="707.0" stroke-width="1.2" />
<polygon class="ah" points="869.8,691.8 871.1,697.3 868.4,697.3"/>
<polygon class="ah" points="869.8,707.0 868.4,701.5 871.1,701.5"/>
<line x1="853.6" y1="691.8" x2="870.6" y2="691.8" stroke-width="1.2" />
<text class="d" x="866.8" y="699.5" font-size="9.8" text-anchor="middle" transform="rotate(-90 866.8 699.5)">35</text>
<rect x="806.4" y="707.0" width="39.8" height="39.4" rx="1.2" stroke-width="1.45" />
<line x1="809.4" y1="707.0" x2="809.4" y2="746.4" stroke-width="1.45" />
<line x1="842.7" y1="707.0" x2="842.7" y2="746.4" stroke-width="1.45" />
<line x1="235.2" y1="943.0" x2="235.2" y2="1224.0" stroke-width="1.0" stroke-dasharray="12 1.6 1.6 1.6"/>
<line x1="221.0" y1="953.8" x2="221.0" y2="992.6" stroke-width="1.2" />
<line x1="248.7" y1="953.8" x2="248.7" y2="992.6" stroke-width="1.2" />
<line x1="221.0" y1="967.8" x2="248.7" y2="967.8" stroke-width="1.45" />
<line x1="221.0" y1="955.3" x2="282.6" y2="955.3" stroke-width="1.2" />
<polygon class="ah" points="221.0,955.3 226.5,953.9 226.5,956.6"/>
<polygon class="ah" points="248.7,955.3 243.2,956.6 243.2,953.9"/>
<text class="d" x="251.3" y="953.0" font-size="9.8" text-anchor="start" textLength="31.3" lengthAdjust="spacingAndGlyphs" >Φ70K6</text>
<line x1="142.4" y1="967.8" x2="142.4" y2="1139.8" stroke-width="1.2" />
<polygon class="ah" points="142.4,967.8 143.8,973.3 141.1,973.3"/>
<polygon class="ah" points="142.4,1139.8 141.1,1134.3 143.8,1134.3"/>
<line x1="142.4" y1="967.8" x2="221.0" y2="967.8" stroke-width="1.2" />
<line x1="142.4" y1="1139.8" x2="192.7" y2="1139.8" stroke-width="1.2" />
<text class="d" x="137.1" y="1040.0" font-size="9.8" text-anchor="middle" transform="rotate(-90 137.1 1040.0)"><tspan font-size="8.8" font-weight="700" stroke="none">行程</tspan>+203</text>
<line x1="198.8" y1="967.8" x2="198.8" y2="992.6" stroke-width="1.2" />
<polygon class="ah" points="198.8,967.8 200.2,973.3 197.5,973.3"/>
<polygon class="ah" points="198.8,992.6 197.5,987.1 200.2,987.1"/>
<line x1="198.2" y1="992.6" x2="216.6" y2="992.6" stroke-width="1.2" />
<text class="d" x="196.2" y="980.1" font-size="9.8" text-anchor="middle" transform="rotate(-90 196.2 980.1)">63</text>
<line x1="216.6" y1="992.6" x2="252.7" y2="992.6" stroke-width="1.45" />
<line x1="216.6" y1="992.6" x2="216.6" y2="1031.6" stroke-width="1.45" />
<line x1="220.0" y1="992.6" x2="220.0" y2="1031.6" stroke-width="1.45" />
<line x1="249.3" y1="992.6" x2="249.3" y2="1031.6" stroke-width="1.45" />
<line x1="252.7" y1="992.6" x2="252.7" y2="1031.6" stroke-width="1.45" />
<text class="d" x="269.5" y="999.0" font-size="9.8" text-anchor="start" textLength="39.4" lengthAdjust="spacingAndGlyphs" >TR90*16</text>
<polyline points="309.9,1001.1 267.1,1001.1 253.7,1014.8" stroke-width="1.2" />
<rect x="208.9" y="1031.6" width="51.1" height="33.7" rx="0" stroke-width="1.45" />
<line x1="208.9" y1="1048.6" x2="299.8" y2="1048.6" stroke-width="1.2" />
<polygon class="ah" points="208.9,1048.6 214.4,1047.2 214.4,1049.9"/>
<polygon class="ah" points="260.0,1048.6 254.5,1049.9 254.5,1047.2"/>
<text class="d" x="264.4" y="1046.1" font-size="9.8" text-anchor="start" textLength="35.4" lengthAdjust="spacingAndGlyphs" >Φ130k6</text>
<rect x="204.4" y="1065.3" width="60.7" height="14.2" rx="0" stroke-width="1.45" />
<line x1="204.4" y1="1072.0" x2="294.7" y2="1072.0" stroke-width="1.2" />
<polygon class="ah" points="204.4,1072.0 209.9,1070.7 209.9,1073.3"/>
<polygon class="ah" points="265.1,1072.0 259.6,1073.3 259.6,1070.7"/>
<text class="d" x="270.5" y="1070.2" font-size="9.8" text-anchor="start" textLength="24.2" lengthAdjust="spacingAndGlyphs" >Φ155</text>
<line x1="188.7" y1="1031.6" x2="188.7" y2="1079.5" stroke-width="1.2" />
<polygon class="ah" points="188.7,1031.6 190.0,1037.1 187.3,1037.1"/>
<polygon class="ah" points="188.7,1079.5 187.3,1074.0 190.0,1074.0"/>
<line x1="188.0" y1="1031.6" x2="208.9" y2="1031.6" stroke-width="1.2" />
<line x1="188.0" y1="1079.5" x2="204.4" y2="1079.5" stroke-width="1.2" />
<text class="d" x="186.5" y="1054.2" font-size="9.8" text-anchor="middle" transform="rotate(-90 186.5 1054.2)">120</text>
<line x1="199.4" y1="1065.3" x2="199.4" y2="1079.5" stroke-width="0.9" />
<polygon class="ah" points="199.4,1065.3 200.8,1070.8 198.1,1070.8"/>
<polygon class="ah" points="199.4,1079.5 198.1,1074.0 200.8,1074.0"/>
<line x1="198.8" y1="1065.3" x2="204.4" y2="1065.3" stroke-width="1.2" />
<text class="d" x="197.8" y="1072.4" font-size="9.8" text-anchor="middle" transform="rotate(-90 197.8 1072.4)">35</text>
<line x1="216.6" y1="1079.5" x2="216.6" y2="1140.0" stroke-width="1.45" />
<line x1="220.0" y1="1079.5" x2="220.0" y2="1140.0" stroke-width="1.45" />
<line x1="249.3" y1="1079.5" x2="249.3" y2="1140.0" stroke-width="1.45" />
<line x1="252.7" y1="1079.5" x2="252.7" y2="1140.0" stroke-width="1.45" />
<line x1="192.7" y1="1140.0" x2="321.5" y2="1140.0" stroke-width="1.45" />
<line x1="192.7" y1="1145.3" x2="276.2" y2="1145.3" stroke-width="1.45" />
<line x1="276.2" y1="1140.0" x2="276.2" y2="1213.3" stroke-width="1.45" />
<line x1="192.7" y1="1140.0" x2="192.7" y2="1158.6" stroke-width="1.45" />
<circle cx="196.0" cy="1184.0" r="25.6" stroke-width="1.45" />
<circle cx="196.0" cy="1184.0" r="15.1" stroke-width="1.45" />
<circle cx="196.0" cy="1184.0" r="20.9" stroke-width="0.9" stroke-dasharray="7 2.5"/>
<circle cx="196.0" cy="1163.1" r="2.5" stroke-width="1.9" fill="#777"/>
<circle cx="177.9" cy="1194.5" r="2.5" stroke-width="1.9" fill="#777"/>
<circle cx="214.1" cy="1194.5" r="2.5" stroke-width="1.9" fill="#777"/>
<line x1="196.0" y1="1146.0" x2="196.0" y2="1213.3" stroke-width="1.0" stroke-dasharray="12 1.6 1.6 1.6"/>
<line x1="196.0" y1="1213.3" x2="196.0" y2="1224.0" stroke-width="1.2" />
<line x1="132.7" y1="1184.0" x2="170.4" y2="1184.0" stroke-width="1.2" />
<line x1="170.4" y1="1184.0" x2="276.2" y2="1184.0" stroke-width="1.0" stroke-dasharray="12 1.6 1.6 1.6"/>
<line x1="170.5" y1="1184.0" x2="156.7" y2="1213.3" stroke-width="1.45" />
<path d="M180.5 1205 Q180.8 1211.3 175.4 1213.3" stroke-width="1.45"/>
<polyline points="196.0,1209.8 202.8,1209.8 202.8,1213.3" stroke-width="1.45" />
<rect x="147.1" y="1213.3" width="138.5" height="10.7" rx="0" stroke-width="1.45" />
<line x1="276.2" y1="1203.3" x2="284.6" y2="1213.3" stroke-width="1.45" />
<line x1="192.7" y1="1142.6" x2="276.2" y2="1142.6" stroke-width="1.2" />
<polygon class="ah" points="192.7,1142.6 198.2,1141.2 198.2,1143.9"/>
<polygon class="ah" points="276.2,1142.6 270.7,1143.9 270.7,1141.2"/>
<line x1="162.2" y1="1142.6" x2="192.7" y2="1142.6" stroke-width="1.2" />
<text class="d" x="162.2" y="1141.4" font-size="9.8" text-anchor="start" textLength="24.5" lengthAdjust="spacingAndGlyphs" >Φ213</text>
<line x1="132.7" y1="1184.0" x2="132.7" y2="1224.0" stroke-width="1.2" />
<polygon class="ah" points="132.7,1184.0 134.0,1189.5 131.3,1189.5"/>
<polygon class="ah" points="132.7,1224.0 131.3,1218.5 134.0,1218.5"/>
<line x1="132.7" y1="1224.0" x2="147.1" y2="1224.0" stroke-width="1.2" />
<text class="d" x="130.6" y="1204.0" font-size="9.8" text-anchor="middle" transform="rotate(-90 130.6 1204.0)">102</text>
<line x1="320.7" y1="1140.0" x2="320.7" y2="1224.0" stroke-width="1.2" />
<polygon class="ah" points="320.7,1140.0 322.1,1145.5 319.3,1145.5"/>
<polygon class="ah" points="320.7,1224.0 319.3,1218.5 322.1,1218.5"/>
<line x1="285.6" y1="1224.0" x2="321.5" y2="1224.0" stroke-width="1.2" />
<text class="d" x="316.4" y="1182.2" font-size="9.8" text-anchor="middle" transform="rotate(-90 316.4 1182.2)">217</text>
<line x1="305.6" y1="1201.8" x2="305.6" y2="1235.6" stroke-width="1.2" />
<polygon class="ah" points="305.6,1213.3 304.2,1207.8 307.0,1207.8"/>
<polygon class="ah" points="305.6,1224.0 307.0,1229.5 304.2,1229.5"/>
<line x1="285.6" y1="1213.3" x2="306.5" y2="1213.3" stroke-width="1.2" />
<text class="d" x="303.5" y="1218.4" font-size="9.8" text-anchor="middle" transform="rotate(-90 303.5 1218.4)">28</text>
<line x1="468.5" y1="968.6" x2="597.3" y2="968.6" stroke-width="1.45" />
<line x1="468.5" y1="974.7" x2="552.1" y2="974.7" stroke-width="1.45" />
<line x1="552.1" y1="968.6" x2="552.1" y2="1042.3" stroke-width="1.45" />
<line x1="468.5" y1="968.6" x2="468.5" y2="987.3" stroke-width="1.45" />
<circle cx="471.6" cy="1012.7" r="25.6" stroke-width="1.45" />
<circle cx="471.6" cy="1012.7" r="15.2" stroke-width="1.45" />
<circle cx="471.6" cy="1012.7" r="20.9" stroke-width="0.9" stroke-dasharray="7 2.5"/>
<circle cx="471.6" cy="991.8" r="2.5" stroke-width="1.9" fill="#777"/>
<circle cx="453.5" cy="1023.2" r="2.5" stroke-width="1.9" fill="#777"/>
<circle cx="489.7" cy="1023.2" r="2.5" stroke-width="1.9" fill="#777"/>
<line x1="471.6" y1="975.0" x2="471.6" y2="1042.3" stroke-width="1.0" stroke-dasharray="12 1.6 1.6 1.6"/>
<line x1="471.6" y1="1042.3" x2="471.6" y2="1053.5" stroke-width="1.2" />
<line x1="415.9" y1="1012.7" x2="446.0" y2="1012.7" stroke-width="1.2" />
<line x1="446.0" y1="1012.7" x2="552.1" y2="1012.7" stroke-width="1.0" stroke-dasharray="12 1.6 1.6 1.6"/>
<line x1="446.0" y1="1012.7" x2="431.6" y2="1042.3" stroke-width="1.45" />
<path d="M456.1 1034 Q456.4 1040.3 451 1042.3" stroke-width="1.45"/>
<polyline points="471.6,1038.8 478.4,1038.8 478.4,1042.3" stroke-width="1.45" />
<rect x="422.4" y="1042.3" width="139.4" height="11.2" rx="0" stroke-width="1.45" />
<line x1="552.1" y1="1032.1" x2="560.6" y2="1042.3" stroke-width="1.45" />
<line x1="510.0" y1="968.6" x2="510.0" y2="1213.5" stroke-width="1.0" stroke-dasharray="12 1.6 1.6 1.6"/>
<line x1="468.5" y1="971.5" x2="552.1" y2="971.5" stroke-width="1.2" />
<polygon class="ah" points="468.5,971.5 474.0,970.1 474.0,972.9"/>
<polygon class="ah" points="552.1,971.5 546.6,972.9 546.6,970.1"/>
<line x1="438.9" y1="971.5" x2="468.5" y2="971.5" stroke-width="1.2" />
<text class="d" x="440.1" y="968.4" font-size="9.8" text-anchor="start" textLength="24.3" lengthAdjust="spacingAndGlyphs" >Φ213</text>
<line x1="415.9" y1="1012.7" x2="415.9" y2="1053.5" stroke-width="1.2" />
<polygon class="ah" points="415.9,1012.7 417.2,1018.2 414.5,1018.2"/>
<polygon class="ah" points="415.9,1053.5 414.5,1048.0 417.2,1048.0"/>
<line x1="403.5" y1="1053.5" x2="422.4" y2="1053.5" stroke-width="1.2" />
<text class="d" x="413.1" y="1034.5" font-size="9.8" text-anchor="middle" transform="rotate(-90 413.1 1034.5)">102</text>
<line x1="596.5" y1="968.6" x2="596.5" y2="1053.5" stroke-width="1.2" />
<polygon class="ah" points="596.5,968.6 597.9,974.1 595.1,974.1"/>
<polygon class="ah" points="596.5,1053.5 595.1,1048.0 597.9,1048.0"/>
<line x1="561.8" y1="1053.5" x2="597.3" y2="1053.5" stroke-width="1.2" />
<text class="d" x="593.2" y="1007.4" font-size="9.8" text-anchor="middle" transform="rotate(-90 593.2 1007.4)">217</text>
<line x1="587.3" y1="1030.9" x2="587.3" y2="1064.8" stroke-width="1.2" />
<polygon class="ah" points="587.3,1042.3 585.9,1036.8 588.6,1036.8"/>
<polygon class="ah" points="587.3,1053.5 588.6,1059.0 585.9,1059.0"/>
<line x1="561.8" y1="1042.3" x2="588.3" y2="1042.3" stroke-width="1.2" />
<text class="d" x="585.9" y="1047.4" font-size="9.8" text-anchor="middle" transform="rotate(-90 585.9 1047.4)">28</text>
<line x1="404.5" y1="1053.5" x2="404.5" y2="1205.6" stroke-width="1.2" />
<polygon class="ah" points="404.5,1053.5 405.9,1059.0 403.1,1059.0"/>
<polygon class="ah" points="404.5,1205.6 403.1,1200.1 405.9,1200.1"/>
<line x1="404.5" y1="1205.6" x2="495.9" y2="1205.6" stroke-width="1.2" />
<text class="d" x="400.0" y="1123.6" font-size="9.8" text-anchor="middle" transform="rotate(-90 400.0 1123.6)"><tspan font-size="8.8" font-weight="700" stroke="none">行程</tspan>+203</text>
<line x1="492.2" y1="1053.5" x2="492.2" y2="1108.6" stroke-width="1.45" />
<line x1="495.9" y1="1053.5" x2="495.9" y2="1108.6" stroke-width="1.45" />
<line x1="524.2" y1="1053.5" x2="524.2" y2="1108.6" stroke-width="1.45" />
<line x1="528.0" y1="1053.5" x2="528.0" y2="1108.6" stroke-width="1.45" />
<text class="d" x="542.4" y="1075.1" font-size="9.8" text-anchor="start" textLength="40.0" lengthAdjust="spacingAndGlyphs" >TR90*16</text>
<polyline points="583.6,1078.2 540.0,1078.2 528.4,1091.5" stroke-width="1.2" />
<rect x="478.9" y="1108.6" width="61.1" height="13.1" rx="0" stroke-width="1.45" />
<line x1="478.9" y1="1115.2" x2="567.9" y2="1115.2" stroke-width="1.2" />
<polygon class="ah" points="478.9,1115.2 484.4,1113.9 484.4,1116.5"/>
<polygon class="ah" points="540.0,1115.2 534.5,1116.5 534.5,1113.9"/>
<text class="d" x="542.9" y="1112.1" font-size="9.8" text-anchor="start" textLength="25.0" lengthAdjust="spacingAndGlyphs" >Φ155</text>
<rect x="483.8" y="1121.7" width="50.6" height="33.0" rx="0" stroke-width="1.45" />
<line x1="483.8" y1="1139.4" x2="573.9" y2="1139.4" stroke-width="1.2" />
<polygon class="ah" points="483.8,1139.4 489.3,1138.1 489.3,1140.8"/>
<polygon class="ah" points="534.4,1139.4 528.9,1140.8 528.9,1138.1"/>
<text class="d" x="538.8" y="1136.8" font-size="9.8" text-anchor="start" textLength="35.1" lengthAdjust="spacingAndGlyphs" >Φ130k6</text>
<line x1="454.7" y1="1108.6" x2="454.7" y2="1154.7" stroke-width="1.2" />
<polygon class="ah" points="454.7,1108.6 456.1,1114.1 453.3,1114.1"/>
<polygon class="ah" points="454.7,1154.7 453.3,1149.2 456.1,1149.2"/>
<line x1="454.0" y1="1108.6" x2="478.9" y2="1108.6" stroke-width="1.2" />
<line x1="454.0" y1="1154.7" x2="483.8" y2="1154.7" stroke-width="1.2" />
<text class="d" x="452.1" y="1130.4" font-size="9.8" text-anchor="middle" transform="rotate(-90 452.1 1130.4)">120</text>
<line x1="470.2" y1="1108.6" x2="470.2" y2="1121.7" stroke-width="0.9" />
<polygon class="ah" points="470.2,1108.6 471.6,1114.1 468.8,1114.1"/>
<polygon class="ah" points="470.2,1121.7 468.8,1116.2 471.6,1116.2"/>
<line x1="469.5" y1="1121.7" x2="478.9" y2="1121.7" stroke-width="1.2" />
<text class="d" x="467.1" y="1116.4" font-size="9.8" text-anchor="middle" transform="rotate(-90 467.1 1116.4)">35</text>
<line x1="492.2" y1="1154.7" x2="492.2" y2="1181.3" stroke-width="1.45" />
<line x1="495.9" y1="1154.7" x2="495.9" y2="1181.3" stroke-width="1.45" />
<line x1="524.2" y1="1154.7" x2="524.2" y2="1181.3" stroke-width="1.45" />
<line x1="528.0" y1="1154.7" x2="528.0" y2="1181.3" stroke-width="1.45" />
<line x1="492.2" y1="1181.3" x2="528.0" y2="1181.3" stroke-width="1.45" />
<line x1="495.9" y1="1181.3" x2="495.9" y2="1220.6" stroke-width="1.2" />
<line x1="524.2" y1="1181.3" x2="524.2" y2="1220.6" stroke-width="1.2" />
<line x1="495.9" y1="1205.6" x2="524.2" y2="1205.6" stroke-width="1.45" />
<line x1="462.4" y1="1219.4" x2="495.9" y2="1219.4" stroke-width="1.2" />
<line x1="495.9" y1="1219.4" x2="524.2" y2="1219.4" stroke-width="1.2" />
<polygon class="ah" points="495.9,1219.4 501.4,1218.1 501.4,1220.8"/>
<polygon class="ah" points="524.2,1219.4 518.7,1220.8 518.7,1218.1"/>
<text class="d" x="461.2" y="1216.3" font-size="9.8" text-anchor="start" textLength="31.5" lengthAdjust="spacingAndGlyphs" >Φ70K6</text>
<line x1="546.1" y1="1181.3" x2="546.1" y2="1205.6" stroke-width="1.2" />
<polygon class="ah" points="546.1,1181.3 547.5,1186.8 544.8,1186.8"/>
<polygon class="ah" points="546.1,1205.6 544.8,1200.1 547.5,1200.1"/>
<line x1="524.2" y1="1181.3" x2="547.0" y2="1181.3" stroke-width="1.2" />
<line x1="524.2" y1="1205.6" x2="547.0" y2="1205.6" stroke-width="1.2" />
<text class="d" x="542.3" y="1194.7" font-size="9.8" text-anchor="middle" transform="rotate(-90 542.3 1194.7)">63</text>
<rect x="702.7" y="1036.4" width="138.9" height="105.3" rx="6.4190000000000005" stroke-width="1.45" />
<circle cx="717.2" cy="1050.7" r="7.0" stroke-width="1.45" />
<circle cx="717.2" cy="1127.4" r="7.0" stroke-width="1.45" />
<circle cx="826.7" cy="1050.7" r="7.0" stroke-width="1.45" />
<circle cx="826.7" cy="1127.4" r="7.0" stroke-width="1.45" />
<line x1="726.5" y1="1042.6" x2="777.0" y2="1042.6" stroke-width="1.45" />
<line x1="726.5" y1="1047.2" x2="779.2" y2="1047.2" stroke-width="1.45" />
<line x1="726.5" y1="1131.1" x2="779.2" y2="1131.1" stroke-width="1.45" />
<line x1="726.5" y1="1135.7" x2="777.0" y2="1135.7" stroke-width="1.45" />
<line x1="726.5" y1="1042.6" x2="726.5" y2="1135.7" stroke-width="1.45" />
<line x1="777.0" y1="1042.6" x2="777.0" y2="1049.0" stroke-width="1.45" />
<line x1="777.0" y1="1129.2" x2="777.0" y2="1135.7" stroke-width="1.45" />
<circle cx="789.7" cy="1089.1" r="41.9" stroke-width="1.45" />
<circle cx="789.7" cy="1089.1" r="36.7" stroke-width="1.45" />
<circle cx="789.7" cy="1089.1" r="32.7" stroke-width="2.0" />
<circle cx="789.7" cy="1089.1" r="18.5" stroke-width="1.45" />
<path d="M755.6 1069.4 A39.3 39.3 0 0 0 755.6 1108.8" stroke-width="1.8"/>
<line x1="751.9" y1="1008.2" x2="751.9" y2="1163.3" stroke-width="1.0" stroke-dasharray="12 1.6 1.6 1.6"/>
<line x1="702.7" y1="1089.1" x2="854.4" y2="1089.1" stroke-width="1.0" stroke-dasharray="12 1.6 1.6 1.6"/>
<line x1="789.7" y1="1036.4" x2="789.7" y2="1142.1" stroke-width="1.0" stroke-dasharray="12 1.6 1.6 1.6"/>
<line x1="789.7" y1="1142.1" x2="789.7" y2="1170.7" stroke-width="1.2" />
<polyline points="745.9,1039.2 745.9,1015.8 757.3,1015.8 757.3,1039.2" stroke-width="1.45" />
<line x1="745.9" y1="1017.7" x2="757.3" y2="1017.7" stroke-width="1.0" />
<rect x="743.4" y="1039.2" width="16.6" height="3.4" rx="0" stroke-width="1.45" />
<rect x="749.8" y="1019.1" width="3.7" height="17.5" rx="1.7423" stroke-width="1.0" />
<rect x="730.0" y="1039.6" width="6.4" height="2.8" rx="0" stroke-width="1.0" fill="#8a8a8a"/>
<rect x="730.0" y="1135.9" width="6.4" height="2.8" rx="0" stroke-width="1.0" fill="#8a8a8a"/>
<rect x="766.9" y="1039.6" width="6.4" height="2.8" rx="0" stroke-width="1.0" fill="#8a8a8a"/>
<rect x="766.9" y="1135.9" width="6.4" height="2.8" rx="0" stroke-width="1.0" fill="#8a8a8a"/>
<rect x="743.8" y="1135.7" width="14.8" height="3.8" rx="0" stroke-width="1.45" />
<polyline points="746.2,1139.5 746.2,1161.3 757.4,1161.3 757.4,1139.5" stroke-width="1.45" />
<line x1="750.1" y1="1143.0" x2="750.1" y2="1161.3" stroke-width="1.2" />
<line x1="753.7" y1="1143.0" x2="753.7" y2="1161.3" stroke-width="1.2" />
<line x1="702.7" y1="1085.1" x2="726.5" y2="1085.1" stroke-width="1.45" />
<line x1="831.2" y1="1085.1" x2="854.4" y2="1085.1" stroke-width="1.45" />
<line x1="702.7" y1="1093.1" x2="726.5" y2="1093.1" stroke-width="1.45" />
<line x1="831.2" y1="1093.1" x2="854.4" y2="1093.1" stroke-width="1.45" />
<line x1="745.9" y1="1008.5" x2="745.9" y2="1015.4" stroke-width="1.2" />
<line x1="757.3" y1="1008.5" x2="757.3" y2="1015.4" stroke-width="1.2" />
<line x1="745.9" y1="1009.7" x2="788.2" y2="1009.7" stroke-width="1.2" />
<polygon class="ah" points="745.9,1009.7 751.4,1008.4 751.4,1011.1"/>
<polygon class="ah" points="757.3,1009.7 751.8,1011.1 751.8,1008.4"/>
<text class="d" x="761.3" y="1007.3" font-size="9.8" text-anchor="start" textLength="30.1" lengthAdjust="spacingAndGlyphs" >Φ32k6</text>
<text class="d" x="766.7" y="1020.9" font-size="9.8" text-anchor="start" textLength="26.6" lengthAdjust="spacingAndGlyphs" >10*50</text>
<polyline points="794.0,1022.4 763.0,1022.4 754.0,1029.7" stroke-width="1.2" />
<line x1="738.0" y1="1015.4" x2="738.0" y2="1038.2" stroke-width="1.2" />
<polygon class="ah" points="738.0,1015.4 739.3,1020.9 736.6,1020.9"/>
<polygon class="ah" points="738.0,1038.2 736.6,1032.7 739.3,1032.7"/>
<line x1="737.0" y1="1038.2" x2="745.1" y2="1038.2" stroke-width="1.2" />
<text class="d" x="735.7" y="1028.0" font-size="9.8" text-anchor="middle" transform="rotate(-90 735.7 1028.0)">60</text>
<line x1="678.0" y1="1015.4" x2="678.0" y2="1161.3" stroke-width="1.2" />
<polygon class="ah" points="678.0,1015.4 679.4,1020.9 676.7,1020.9"/>
<polygon class="ah" points="678.0,1161.3 676.7,1155.8 679.4,1155.8"/>
<line x1="678.0" y1="1015.4" x2="745.9" y2="1015.4" stroke-width="1.2" />
<line x1="678.0" y1="1161.3" x2="746.2" y2="1161.3" stroke-width="1.2" />
<text class="d" x="675.1" y="1089.1" font-size="9.8" text-anchor="middle" transform="rotate(-90 675.1 1089.1)">370</text>
<line x1="691.5" y1="1042.6" x2="691.5" y2="1135.7" stroke-width="1.2" />
<polygon class="ah" points="691.5,1042.6 692.8,1048.1 690.1,1048.1"/>
<polygon class="ah" points="691.5,1135.7 690.1,1130.2 692.8,1130.2"/>
<line x1="691.5" y1="1042.6" x2="726.5" y2="1042.6" stroke-width="1.2" />
<line x1="691.5" y1="1135.7" x2="726.5" y2="1135.7" stroke-width="1.2" />
<text class="d" x="688.5" y="1089.1" font-size="9.8" text-anchor="middle" transform="rotate(-90 688.5 1089.1)">236</text>
<line x1="870.3" y1="1050.7" x2="870.3" y2="1127.4" stroke-width="1.2" />
<polygon class="ah" points="870.3,1050.7 871.7,1056.2 869.0,1056.2"/>
<polygon class="ah" points="870.3,1127.4 869.0,1121.9 871.7,1121.9"/>
<line x1="826.7" y1="1050.7" x2="871.2" y2="1050.7" stroke-width="1.2" />
<line x1="826.7" y1="1127.4" x2="871.2" y2="1127.4" stroke-width="1.2" />
<text class="d" x="868.3" y="1089.1" font-size="9.8" text-anchor="middle" transform="rotate(-90 868.3 1089.1)">190</text>
<line x1="882.6" y1="1036.4" x2="882.6" y2="1141.7" stroke-width="1.2" />
<polygon class="ah" points="882.6,1036.4 884.0,1041.9 881.3,1041.9"/>
<polygon class="ah" points="882.6,1141.7 881.3,1136.2 884.0,1136.2"/>
<line x1="835.2" y1="1036.4" x2="883.5" y2="1036.4" stroke-width="1.2" />
<line x1="835.2" y1="1141.7" x2="883.5" y2="1141.7" stroke-width="1.2" />
<text class="d" x="881.2" y="1089.1" font-size="9.8" text-anchor="middle" transform="rotate(-90 881.2 1089.1)">265</text>
<line x1="852.7" y1="1077.0" x2="852.7" y2="1100.9" stroke-width="0.9" />
<polygon class="ah" points="852.7,1085.1 851.4,1079.6 854.1,1079.6"/>
<polygon class="ah" points="852.7,1093.1 854.1,1098.6 851.4,1098.6"/>
<line x1="716.5" y1="1077.0" x2="716.5" y2="1100.9" stroke-width="0.9" />
<polygon class="ah" points="716.5,1085.1 715.2,1079.6 717.9,1079.6"/>
<polygon class="ah" points="716.5,1093.1 717.9,1098.6 715.2,1098.6"/>
<text class="d" x="850.8" y="1089.1" font-size="7.2" text-anchor="middle" transform="rotate(-90 850.8 1089.1)">20</text>
<text class="d" x="714.9" y="1089.1" font-size="7.2" text-anchor="middle" transform="rotate(-90 714.9 1089.1)">20</text>
<line x1="751.8" y1="1169.3" x2="789.7" y2="1169.3" stroke-width="1.2" />
<polygon class="ah" points="751.8,1169.3 757.3,1168.0 757.3,1170.7"/>
<polygon class="ah" points="789.7,1169.3 784.2,1170.7 784.2,1168.0"/>
<line x1="751.8" y1="1161.3" x2="751.8" y2="1170.7" stroke-width="1.2" />
<text class="d" x="771.5" y="1167.7" font-size="9.8" text-anchor="middle" >97</text>
<line x1="789.7" y1="1156.8" x2="826.7" y2="1156.8" stroke-width="1.2" />
<polygon class="ah" points="789.7,1156.8 795.2,1155.4 795.2,1158.1"/>
<polygon class="ah" points="826.7,1156.8 821.2,1158.1 821.2,1155.4"/>
<text class="d" x="809.1" y="1155.1" font-size="9.8" text-anchor="middle" >95</text>
<line x1="717.2" y1="1180.9" x2="826.7" y2="1180.9" stroke-width="1.2" />
<polygon class="ah" points="717.2,1180.9 722.7,1179.6 722.7,1182.3"/>
<polygon class="ah" points="826.7,1180.9 821.2,1182.3 821.2,1179.6"/>
<line x1="717.2" y1="1127.4" x2="717.2" y2="1182.7" stroke-width="1.2" />
<line x1="826.7" y1="1127.4" x2="826.7" y2="1182.7" stroke-width="1.2" />
<text class="d" x="771.5" y="1178.7" font-size="9.8" text-anchor="middle" >280</text>
<line x1="702.7" y1="1192.0" x2="841.6" y2="1192.0" stroke-width="1.2" />
<polygon class="ah" points="702.7,1192.0 708.2,1190.7 708.2,1193.4"/>
<polygon class="ah" points="841.6,1192.0 836.1,1193.4 836.1,1190.7"/>
<line x1="702.7" y1="1135.6" x2="702.7" y2="1193.8" stroke-width="1.2" />
<line x1="841.6" y1="1135.6" x2="841.6" y2="1193.8" stroke-width="1.2" />
<text class="d" x="771.5" y="1190.0" font-size="9.8" text-anchor="middle" >354</text>
<text class="d" x="844.2" y="1158.0" font-size="9.8" text-anchor="start" textLength="31.1" lengthAdjust="spacingAndGlyphs" >4-Φ35</text>
<polyline points="875.8,1159.9 833.3,1159.9 829.7,1135.2" stroke-width="1.2" />
<line x1="343.7" y1="1304.6" x2="343.7" y2="1396.8" stroke-width="0.9" />
<polyline points="330.0,1355.2 330.0,1316.4" stroke-width="1.2" />
<polyline points="358.3,1355.2 358.3,1316.4" stroke-width="1.2" />
<line x1="330.0" y1="1329.9" x2="358.3" y2="1329.9" stroke-width="1.45" />
<line x1="330.0" y1="1329.9" x2="330.0" y2="1355.2" stroke-width="1.45" />
<line x1="358.3" y1="1329.9" x2="358.3" y2="1355.2" stroke-width="1.45" />
<line x1="330.0" y1="1317.4" x2="391.2" y2="1317.4" stroke-width="1.2" />
<polygon class="ah" points="330.0,1317.4 335.5,1316.1 335.5,1318.8"/>
<polygon class="ah" points="358.3,1317.4 352.8,1318.8 352.8,1316.1"/>
<text class="d" x="359.9" y="1314.8" font-size="9.8" text-anchor="start" textLength="30.9" lengthAdjust="spacingAndGlyphs" >Φ70K6</text>
<rect x="326.0" y="1355.2" width="36.3" height="27.8" rx="1.5" stroke-width="1.45" />
<line x1="329.0" y1="1355.2" x2="329.0" y2="1383.0" stroke-width="1.45" />
<line x1="359.3" y1="1355.2" x2="359.3" y2="1383.0" stroke-width="1.45" />
<line x1="307.4" y1="1329.9" x2="307.4" y2="1355.2" stroke-width="1.2" />
<polygon class="ah" points="307.4,1329.9 308.8,1335.4 306.0,1335.4"/>
<polygon class="ah" points="307.4,1355.2 306.0,1349.7 308.8,1349.7"/>
<line x1="306.9" y1="1329.9" x2="330.0" y2="1329.9" stroke-width="1.2" />
<line x1="306.9" y1="1355.2" x2="330.0" y2="1355.2" stroke-width="1.2" />
<text class="d" x="304.8" y="1343.0" font-size="9.8" text-anchor="middle" transform="rotate(-90 304.8 1343.0)">63</text>
<line x1="695.2" y1="1306.3" x2="695.2" y2="1398.2" stroke-width="0.9" />
<polyline points="681.6,1356.8 681.6,1318.0" stroke-width="1.2" />
<polyline points="708.9,1356.8 708.9,1318.0" stroke-width="1.2" />
<line x1="681.6" y1="1331.5" x2="708.9" y2="1331.5" stroke-width="1.45" />
<line x1="681.6" y1="1331.5" x2="681.6" y2="1356.8" stroke-width="1.45" />
<line x1="708.9" y1="1331.5" x2="708.9" y2="1356.8" stroke-width="1.45" />
<line x1="681.6" y1="1319.0" x2="741.2" y2="1319.0" stroke-width="1.2" />
<polygon class="ah" points="681.6,1319.0 687.1,1317.7 687.1,1320.3"/>
<polygon class="ah" points="708.9,1319.0 703.4,1320.3 703.4,1317.7"/>
<text class="d" x="712.5" y="1316.4" font-size="9.8" text-anchor="start" textLength="28.7" lengthAdjust="spacingAndGlyphs" >M70*3</text>
<rect x="677.2" y="1356.8" width="36.1" height="27.6" rx="1.5" stroke-width="1.45" />
<line x1="680.2" y1="1356.8" x2="680.2" y2="1384.4" stroke-width="1.45" />
<line x1="710.3" y1="1356.8" x2="710.3" y2="1384.4" stroke-width="1.45" />
<line x1="722.6" y1="1331.5" x2="722.6" y2="1356.8" stroke-width="1.2" />
<polygon class="ah" points="722.6,1331.5 724.0,1337.0 721.2,1337.0"/>
<polygon class="ah" points="722.6,1356.8 721.2,1351.3 724.0,1351.3"/>
<line x1="708.9" y1="1331.5" x2="723.4" y2="1331.5" stroke-width="1.2" />
<line x1="708.9" y1="1356.8" x2="723.4" y2="1356.8" stroke-width="1.2" />
<text class="d" x="720.5" y="1344.2" font-size="9.8" text-anchor="middle" transform="rotate(-90 720.5 1344.2)">63</text>
</g>
</svg>
</body></html>
